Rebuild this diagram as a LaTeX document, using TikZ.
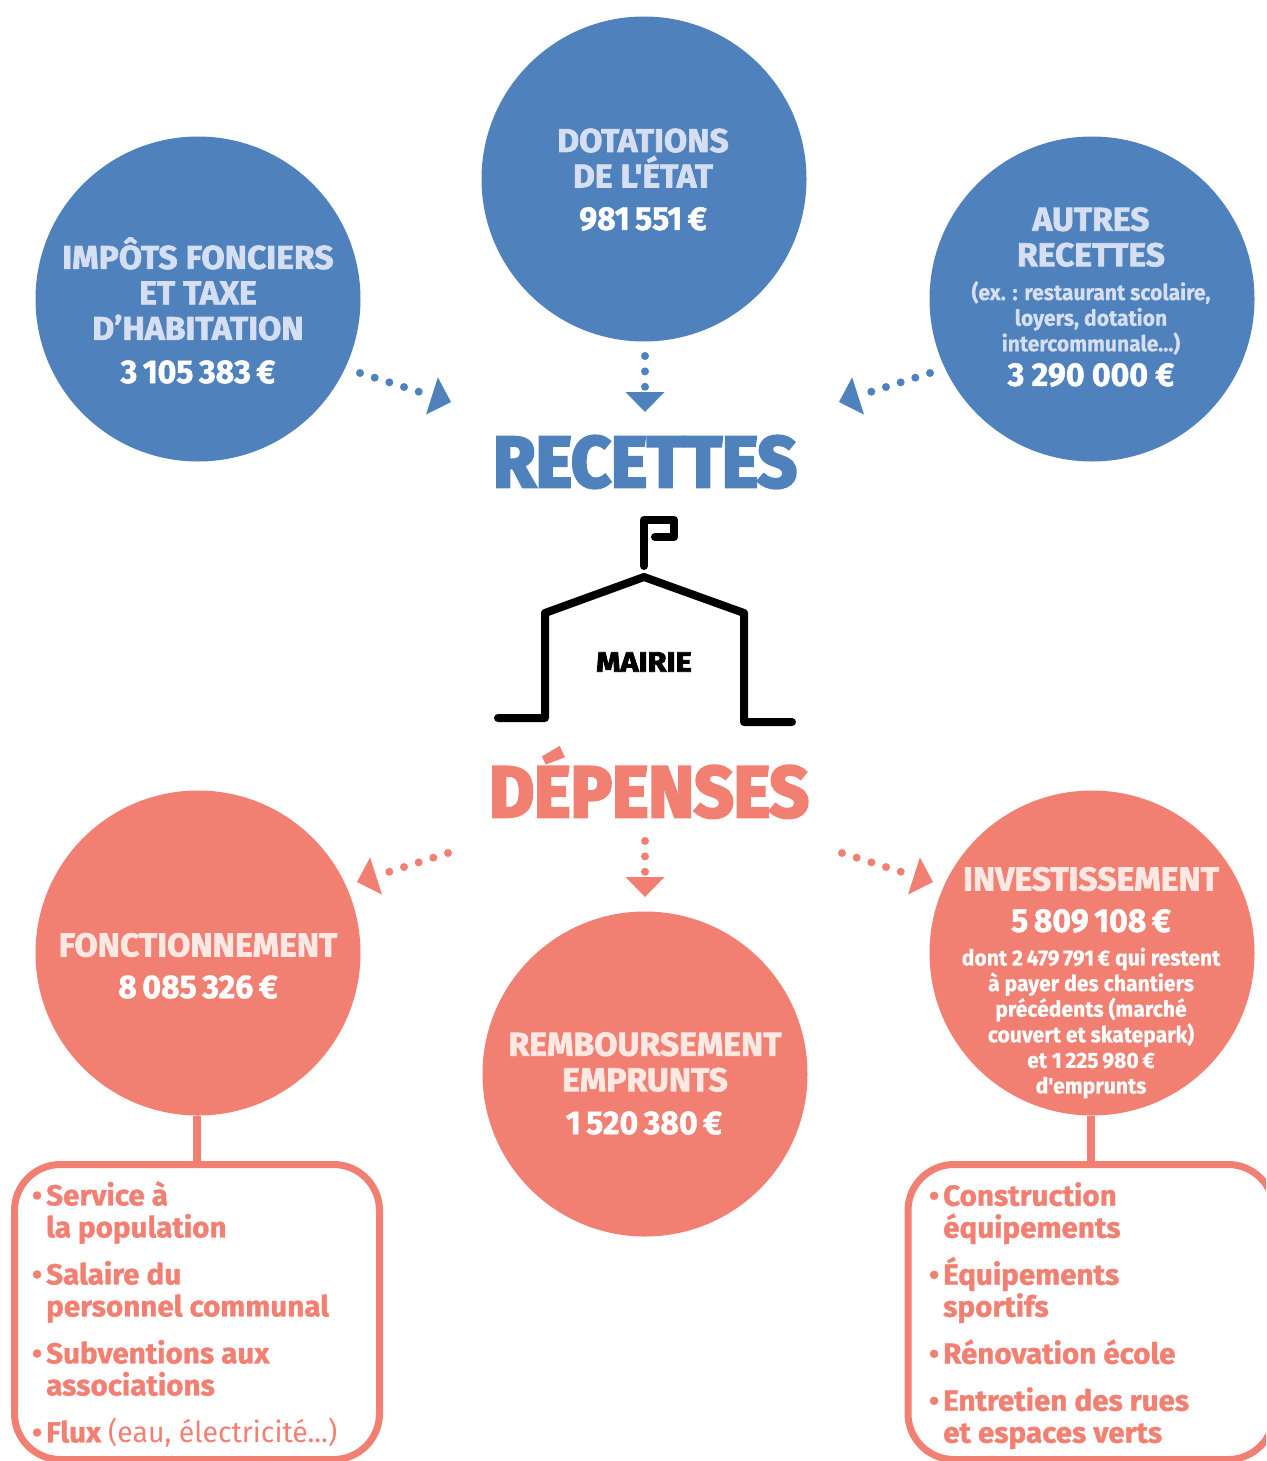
\documentclass[tikz,border=0pt]{standalone}
\usepackage{fontspec}
\setmainfont{Fira Sans}
\newfontfamily\lightface{Fira Sans}[FakeStretch=0.98]
\newfontfamily\noteface{Fira Sans Bold}[FakeStretch=0.96,FakeBold=0.5]
\newfontfamily\amountface{Fira Sans Bold}[FakeStretch=0.97,FakeBold=1.5]
\newfontfamily\listface{Fira Sans Bold}[FakeStretch=1.02,FakeBold=1.2]
\newfontfamily\headface{Fira Sans Bold}[FakeStretch=1.02,FakeBold=2]
\newfontfamily\titleface{Fira Sans Bold}[FakeStretch=0.96,FakeBold=4]
\newfontfamily\mairieface{Fira Sans Bold}[FakeStretch=1.1,FakeBold=3]
\usetikzlibrary{arrows.meta}
\definecolor{bleu}{HTML}{4F81BD}
\definecolor{saumon}{HTML}{F28072}
\definecolor{bleuclair}{HTML}{D5DFF1}
\definecolor{saumonclair}{HTML}{FDE8E3}
\newcommand{\tightlines}{\setlength{\lineskiplimit}{-30pt}}
\tikzset{
  disc/.style={circle,minimum size=325pt,inner sep=0pt},
  heading/.style={align=center,inner sep=0pt,font=\headface\fontsize{33}{35.5}\selectfont\tightlines},
  amount/.style={inner sep=0pt,text=white,font=\amountface\fontsize{33}{35}\selectfont},
  note/.style={align=center,inner sep=0pt,text=white,font=\noteface\fontsize{22}{25.6}\selectfont\tightlines},
  bigtitle/.style={inner sep=0pt,font=\titleface\fontsize{72}{72}\selectfont},
  dots/.style={line width=8pt,line cap=round,dash pattern=on 0pt off 15.4pt,
    -{Triangle[length=20pt,width=39pt,line width=0pt]}},
  listbox/.style={draw=saumon,line width=7pt,rounded corners=46pt,inner sep=0pt},
  listtext/.style={align=left,anchor=north west,inner sep=0pt,text=saumon,
    font=\listface\fontsize{29}{32}\selectfont\tightlines},
  stem/.style={draw=saumon,line width=8pt},
  house/.style={line width=8pt,line cap=round,line join=round}
}
\newcommand{\puce}{\llap{\textbullet\hspace{4pt}}}
\begin{document}
\begin{tikzpicture}[x=1pt,y=-1pt]
\useasboundingbox (0,0) rectangle (1266,1461);
\clip (0,0) rectangle (1266,1461);
% recettes
\node[disc,fill=bleu] (impots) at (198,299) {};
\node[disc,fill=bleu] (dotations) at (644,179) {};
\node[disc,fill=bleu] (autres) at (1092,299) {};
\node[heading,text=bleuclair] (impotstitle) at (198,289) {IMPÔTS FONCIERS\\ET TAXE\\D’HABITATION};
\node[amount] (impotsvalue) at (198,372) {3\,105\,383\,€};
\node[heading,text=bleuclair] (dotationstitle) at (643,158) {DOTATIONS\\DE L'ÉTAT};
\node[amount] (dotationsvalue) at (643,219) {981\,551\,€};
\node[heading,text=bleuclair] (autrestitle) at (1091,237) {AUTRES\\RECETTES};
\node[note,text=bleuclair] (autresnote) at (1091,318) {(ex. : restaurant scolaire,\\loyers, dotation\\intercommunale...)};
\node[amount] (autresvalue) at (1091,375) {3\:290\:000\:€};
\node[bigtitle,text=bleu] (recettes) at (645,462) {RECETTES};
\coordinate (a1) at (360,373);
\coordinate (a2) at (451,402);
\coordinate (b1) at (645,356);
\coordinate (b2) at (645,412);
\coordinate (c1) at (930,373);
\coordinate (c2) at (839,402);
\draw[dots,bleu] (a1) -- (a2);
\draw[dots,bleu] (b1) -- (b2);
\draw[dots,bleu] (c1) -- (c2);
% mairie
\draw[house] (498,718) -- (545,718) -- (545,613) -- (644,577) -- (744,613) -- (744,722) -- (792,722);
\draw[house] (644,566) -- (644,520) -- (674,520) -- (674,537) -- (655,537);
\node[inner sep=0pt,font=\mairieface\fontsize{28}{28}\selectfont] (mairie) at (644,662) {MAIRIE};
% depenses
\node[bigtitle,text=saumon] (depenses) at (649,783) {DÉPENSES};
\node[disc,fill=saumon] (fonct) at (198,953) {};
\node[disc,fill=saumon] (remb) at (645,1074) {};
\node[disc,fill=saumon] (invest) at (1092,953) {};
\node[heading,text=saumonclair] (foncttitle) at (198,945) {FONCTIONNEMENT};
\node[amount] (fonctvalue) at (198,987) {8\,085\,326\,€};
\node[heading,text=saumonclair] (rembtitle) at (645,1062) {REMBOURSEMENT\\EMPRUNTS};
\node[amount] (rembvalue) at (644,1123) {1\,520\,380\,€};
\node[heading,text=saumonclair] (investtitle) at (1091,879) {INVESTISSEMENT};
\node[amount] (investvalue) at (1091,921) {5\,809\,108\,€};
\node[note] (investnote) at (1091,1023) {dont 2\,479\,791\,€ qui restent\\à payer des chantiers\\précédents (marché\\couvert et skatepark)\\et 1\,225\,980\,€\\d'emprunts};
\coordinate (d1) at (448,853);
\coordinate (d2) at (357,882);
\coordinate (e1) at (645,841);
\coordinate (e2) at (645,897);
\coordinate (f1) at (842,853);
\coordinate (f2) at (933,882);
\draw[dots,saumon] (d1) -- (d2);
\draw[dots,saumon] (e1) -- (e2);
\draw[dots,saumon] (f1) -- (f2);
% listes
\node[listbox,minimum width=365pt,minimum height=295pt] (fonctbox) at (197,1312) {};
\node[listbox,minimum width=366pt,minimum height=295pt] (investbox) at (1091,1312) {};
\draw[stem] (fonct.south -| fonctbox.north) -- (fonctbox.north);
\draw[stem] (invest.south -| investbox.north) -- (investbox.north);
\node[listtext] (fonctlist) at (46,1181) {\puce Service à\\la population\\[15pt]\puce Salaire du\\personnel communal\\[15pt]\puce Subventions aux\\associations\\[15pt]\puce Flux {\lightface\fontsize{29}{32}\selectfont(eau, électricité...)}};
\node[listtext] (investlist) at (943,1182) {\puce Construction\\équipements\\[15pt]\puce Équipements\\sportifs\\[15pt]\puce Rénovation école\\[15pt]\puce Entretien des rues\\et espaces verts};
\end{tikzpicture}
\end{document}
